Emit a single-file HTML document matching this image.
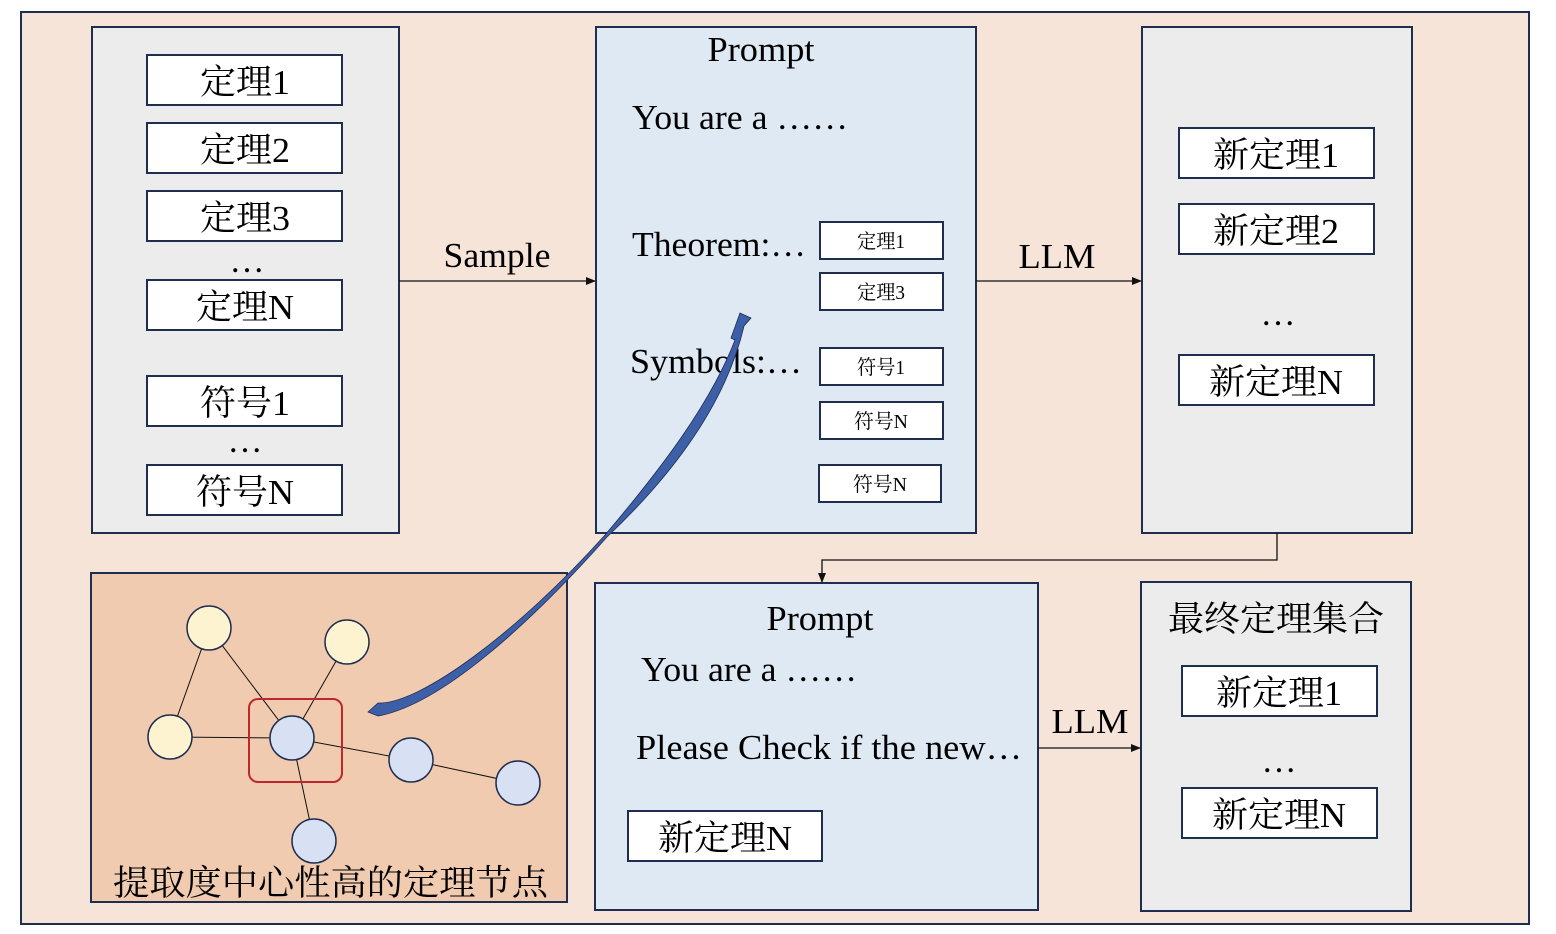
<!DOCTYPE html>
<html><head><meta charset="utf-8"><style>
html,body{margin:0;padding:0;background:#fff;}
svg{display:block;}
text{font-family:"Liberation Serif","Noto Serif CJK SC",serif;fill:#000;}
</style></head><body>
<svg width="1556" height="934" viewBox="0 0 1556 934" xmlns="http://www.w3.org/2000/svg">
<defs>
<marker id="ah" markerWidth="10" markerHeight="10" refX="9" refY="5" orient="auto" markerUnits="userSpaceOnUse">
<path d="M0,1 L10,5 L0,9 z" fill="#111"/></marker>
</defs>
<rect x="21" y="12" width="1508" height="912" fill="#f6e4d8" stroke="#1f2d4f" stroke-width="2"/>
<g stroke="#1f2d4f" stroke-width="2">
<rect x="92" y="27" width="307" height="506" fill="#ececec"/>
<rect x="596" y="27" width="380" height="506" fill="#dfe9f4"/>
<rect x="1142" y="27" width="270" height="506" fill="#ececec"/>
<rect x="91" y="573" width="476" height="329" fill="#f0cbb0"/>
<rect x="595" y="583" width="443" height="327" fill="#dfe9f4"/>
<rect x="1141" y="582" width="270" height="329" fill="#ececec"/>
</g>
<g fill="#fff" stroke="#1f2d4f" stroke-width="2">
<rect x="147" y="55" width="195" height="50"/>
<rect x="147" y="123" width="195" height="50"/>
<rect x="147" y="191" width="195" height="50"/>
<rect x="147" y="280" width="195" height="50"/>
<rect x="147" y="376" width="195" height="50"/>
<rect x="147" y="465" width="195" height="50"/>
<rect x="820" y="222" width="123" height="37"/>
<rect x="820" y="273" width="123" height="37"/>
<rect x="820" y="348" width="123" height="37"/>
<rect x="820" y="402" width="123" height="37"/>
<rect x="819" y="465" width="122" height="37"/>
<rect x="1179" y="128" width="195" height="50"/>
<rect x="1179" y="204" width="195" height="50"/>
<rect x="1179" y="355" width="195" height="50"/>
<rect x="628" y="811" width="194" height="50"/>
<rect x="1182" y="666" width="195" height="50"/>
<rect x="1182" y="788" width="195" height="50"/>
</g>
<g font-size="35" text-anchor="middle">
<text x="245" y="94" textLength="90" lengthAdjust="spacingAndGlyphs">定理1</text>
<text x="245" y="162" textLength="90" lengthAdjust="spacingAndGlyphs">定理2</text>
<text x="245" y="230" textLength="90" lengthAdjust="spacingAndGlyphs">定理3</text>
<text x="245" y="319" textLength="98" lengthAdjust="spacingAndGlyphs">定理N</text>
<text x="245" y="415" textLength="90" lengthAdjust="spacingAndGlyphs">符号1</text>
<text x="245" y="504" textLength="98" lengthAdjust="spacingAndGlyphs">符号N</text>
<text x="247" y="272">…</text>
<text x="245" y="452">…</text>
<text x="1276" y="167" textLength="126" lengthAdjust="spacingAndGlyphs">新定理1</text>
<text x="1276" y="243" textLength="126" lengthAdjust="spacingAndGlyphs">新定理2</text>
<text x="1276" y="394" textLength="134" lengthAdjust="spacingAndGlyphs">新定理N</text>
<text x="1278" y="325">…</text>
<text x="725" y="850" textLength="134" lengthAdjust="spacingAndGlyphs">新定理N</text>
<text x="1279" y="705" textLength="126" lengthAdjust="spacingAndGlyphs">新定理1</text>
<text x="1279" y="827" textLength="134" lengthAdjust="spacingAndGlyphs">新定理N</text>
<text x="1279" y="772">…</text>
<text x="1276" y="631" textLength="216" lengthAdjust="spacingAndGlyphs">最终定理集合</text>
<text x="761" y="61" textLength="107" lengthAdjust="spacingAndGlyphs">Prompt</text>
<text x="820" y="630" textLength="107" lengthAdjust="spacingAndGlyphs">Prompt</text>
<text x="497" y="267" textLength="107" lengthAdjust="spacingAndGlyphs">Sample</text>
<text x="1057" y="268" textLength="77" lengthAdjust="spacingAndGlyphs">LLM</text>
<text x="1090" y="733" textLength="77" lengthAdjust="spacingAndGlyphs">LLM</text>
</g>
<g font-size="35">
<text x="632" y="129" textLength="216" lengthAdjust="spacingAndGlyphs">You are a ……</text>
<text x="632" y="256" textLength="174" lengthAdjust="spacingAndGlyphs">Theorem:…</text>
<text x="630" y="373" textLength="172" lengthAdjust="spacingAndGlyphs">Symbols:…</text>
<text x="641" y="681" textLength="216" lengthAdjust="spacingAndGlyphs">You are a ……</text>
<text x="636" y="759" textLength="386" lengthAdjust="spacingAndGlyphs">Please Check if the new…</text>
<text x="113" y="895" textLength="435" lengthAdjust="spacingAndGlyphs">提取度中心性高的定理节点</text>
</g>
<g font-size="20" text-anchor="middle">
<text x="881" y="248" textLength="48" lengthAdjust="spacingAndGlyphs">定理1</text>
<text x="881" y="299" textLength="48" lengthAdjust="spacingAndGlyphs">定理3</text>
<text x="881" y="374" textLength="48" lengthAdjust="spacingAndGlyphs">符号1</text>
<text x="881" y="428" textLength="54" lengthAdjust="spacingAndGlyphs">符号N</text>
<text x="880" y="491" textLength="54" lengthAdjust="spacingAndGlyphs">符号N</text>
</g>
<g stroke="#111" stroke-width="1.3" fill="none">
<line x1="399" y1="281" x2="595" y2="281" marker-end="url(#ah)"/>
<line x1="976" y1="281" x2="1141" y2="281" marker-end="url(#ah)"/>
<line x1="1038" y1="748" x2="1140" y2="748" marker-end="url(#ah)"/>
<polyline points="1277,533 1277,560 822,560 822,582" marker-end="url(#ah)"/>
</g>
<g stroke="#111" stroke-width="1">
<line x1="209" y1="628" x2="170" y2="737"/>
<line x1="209" y1="628" x2="292" y2="738"/>
<line x1="347" y1="642" x2="292" y2="738"/>
<line x1="170" y1="737" x2="292" y2="738"/>
<line x1="292" y1="738" x2="411" y2="760"/>
<line x1="411" y1="760" x2="518" y2="783"/>
<line x1="292" y1="738" x2="314" y2="841"/>
</g>
<rect x="249" y="699" width="93" height="83" rx="9" fill="none" stroke="#c0272d" stroke-width="2"/>
<g stroke="#1f2d4f" stroke-width="1.5">
<circle cx="209" cy="628" r="22" fill="#fdf3d0"/>
<circle cx="347" cy="642" r="22" fill="#fdf3d0"/>
<circle cx="170" cy="737" r="22" fill="#fdf3d0"/>
<circle cx="292" cy="738" r="22" fill="#d8e0f3"/>
<circle cx="411" cy="760" r="22" fill="#d8e0f3"/>
<circle cx="518" cy="783" r="22" fill="#d8e0f3"/>
<circle cx="314" cy="841" r="22" fill="#d8e0f3"/>
</g>
<path d="M368,712 L378,703 C420,705 520,630 605,535 C660,470 710,405 735,340 L731,338 L740,313 L751,318 L744,326 C728,395 682,466 607,537 C528,626 440,705 378,716 Z" fill="#3d5fa8" stroke="#1f2d4f" stroke-width="0.8"/>
</svg>
</body></html>
